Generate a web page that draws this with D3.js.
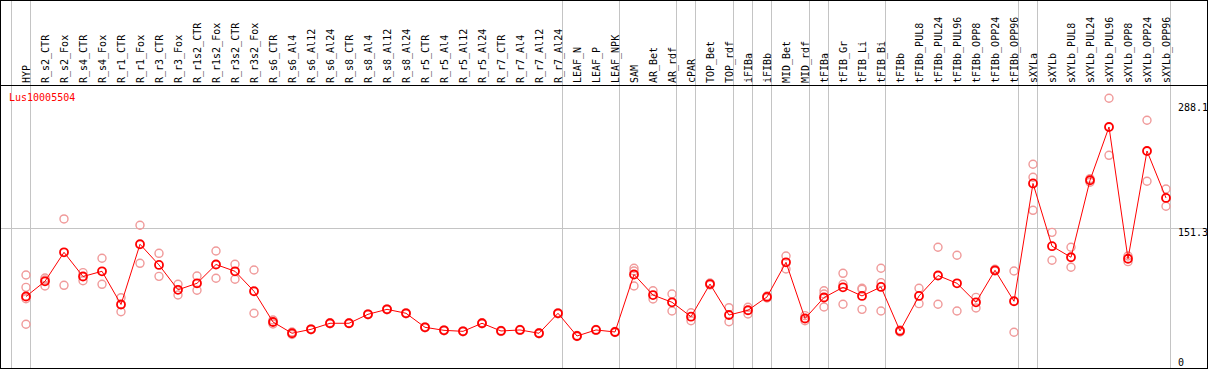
<!DOCTYPE html>
<html>
<head>
<meta charset="utf-8">
<script src="https://cdn.jsdelivr.net/npm/d3@7"></script>
<style>
  body { margin: 0; background: #fff; }
  text { font-family: "DejaVu Sans Mono", monospace; font-size: 10px; }
</style>
</head>
<body>
<div id="chart"></div>
<script>
var geneName = "Lus10005504";

var samples = ["HYP", "R_s2_CTR", "R_s2_Fox", "R_s4_CTR", "R_s4_Fox", "R_r1_CTR", "R_r1_Fox",
    "R_r3_CTR", "R_r3_Fox", "R_r1s2_CTR", "R_r1s2_Fox", "R_r3s2_CTR", "R_r3s2_Fox",
    "R_s6_CTR", "R_s6_Al4", "R_s6_Al12", "R_s6_Al24", "R_s8_CTR", "R_s8_Al4", "R_s8_Al12", "R_s8_Al24",
    "R_r5_CTR", "R_r5_Al4", "R_r5_Al12", "R_r5_Al24", "R_r7_CTR", "R_r7_Al4", "R_r7_Al12", "R_r7_Al24",
    "LEAF_N", "LEAF_P", "LEAF_NPK", "SAM", "AR_Bet", "AR_rdf", "cPAR", "TOP_Bet", "TOP_rdf",
    "iFIBa", "iFIBb", "MID_Bet", "MID_rdf", "tFIBa", "tFIB_Gr", "tFIB_Li", "tFIB_Bi", "tFIBb",
    "tFIBb_PUL8", "tFIBb_PUL24", "tFIBb_PUL96", "tFIBb_OPP8", "tFIBb_OPP24", "tFIBb_OPP96",
    "sXYLa", "sXYLb", "sXYLb_PUL8", "sXYLb_PUL24", "sXYLb_PUL96", "sXYLb_OPP8", "sXYLb_OPP24", "sXYLb_OPP96"];

var means = [76.9, 93.5, 125.1, 98.7, 104.4, 68.2, 133.9, 111.3, 84.2, 91.3, 111.8, 104.4, 82.6,
    49.1, 36.8, 41.1, 47.7, 47.7, 57.5, 62.9, 58.6, 43.3, 40.0, 38.9, 47.7, 39.3, 40.4, 36.8, 58.6,
    33.8, 40.4, 38.2, 100.9, 78.5, 70.6, 54.9, 90.5, 56.7, 61.9, 76.4, 114.2, 52.9, 75.8, 86.9,
    77.5, 87.3, 39.3, 77.5, 99.8, 91.3, 70.6, 105.5, 71.7, 200.2, 131.8, 119.7, 203.7, 261.8,
    118.1, 235.6, 184.4];

var replicates = [
    [100.4, 86.9, 74.5, 46.6], [97.1, 94.9, 88.4], [161.5, 89.1], [102.9, 94.1], [118.6, 90.2],
    [75.6, 60.3], [154.6, 113.1], [124.0, 98.9], [90.2, 78.5], [99.3, 83.7], [126.5, 96.8],
    [112.0, 95.7], [105.8, 58.6], [51.3, 46.9], [38.2, 35.5], [41.6, 40.6], [48.2, 47.2],
    [48.0, 47.4], [58.0, 57.0], [63.4, 62.4], [59.1, 58.1], [43.8, 42.8], [40.5, 39.5],
    [39.4, 38.4], [48.2, 47.2], [39.8, 38.8], [40.9, 39.9], [37.3, 36.3], [59.1, 58.1],
    [34.3, 33.3], [40.9, 39.9], [38.7, 37.7], [107.7, 104.7, 88.4], [83.2, 74.2], [79.6, 61.1],
    [59.2, 50.5], [91.6, 89.5], [64.7, 49.4], [65.1, 57.8], [77.5, 75.3], [121.1, 106.9],
    [56.0, 50.5], [83.2, 79.6, 65.5], [102.2, 90.2, 68.4], [85.9, 84.8, 62.9], [107.7, 92.0, 61.1],
    [40.4, 38.2], [85.9, 69.1], [130.6, 68.4], [121.9, 61.1], [76.0, 64.4], [106.6, 104.7],
    [104.7, 37.9], [221.1, 207.0, 170.9], [146.9, 116.4], [130.6, 108.8], [205.4, 201.5],
    [293.1, 230.9], [121.1, 114.9], [269.1, 202.6], [194.2, 175.3]];

// index of the last sample in each group (-1 = left margin line)
var groupEnds = [-1, 0, 28, 31, 34, 35, 37, 38, 39, 41, 42, 45, 52, 53, 60];

var yTicks = [0, 151.3, 288.1];
var gridTicks = [151.3];
var yMax = 307.6;

var width = 1209, height = 370;
var headerH = 85;
var bottom = 367;

var svg = d3.select('#chart').append('svg')
    .attr('width', width)
    .attr('height', height);

var x = d3.scalePoint()
    .domain(samples)
    .range([26, 1166]);
var step = x.step();

var y = d3.scaleLinear()
    .domain([0, yMax])
    .range([bottom, headerH]);

function xi(i) { return x(samples[0]) + i * step; }

// group separator lines
svg.append('g')
    .selectAll('line')
    .data(groupEnds)
    .enter().append('line')
    .attr('x1', function(d) { return Math.floor(xi(d) + 4) + 0.5; })
    .attr('x2', function(d) { return Math.floor(xi(d) + 4) + 0.5; })
    .attr('y1', 0)
    .attr('y2', 369)
    .attr('stroke', '#c4c4c4')
    .attr('stroke-width', 1);

// horizontal grid line
svg.append('g')
    .selectAll('line')
    .data(gridTicks)
    .enter().append('line')
    .attr('x1', 1)
    .attr('x2', 1207)
    .attr('y1', function(d) { return Math.round(y(d)) + 0.5; })
    .attr('y2', function(d) { return Math.round(y(d)) + 0.5; })
    .attr('stroke', '#c4c4c4')
    .attr('stroke-width', 1);

// frame and header separator
svg.append('rect')
    .attr('x', 0.5).attr('y', 0.5)
    .attr('width', 1207).attr('height', 368)
    .attr('fill', 'none')
    .attr('stroke', '#000')
    .attr('stroke-width', 1);
svg.append('line')
    .attr('x1', 0).attr('x2', 1208)
    .attr('y1', headerH + 0.5).attr('y2', headerH + 0.5)
    .attr('stroke', '#000');

// sample labels
svg.append('g')
    .selectAll('text')
    .data(samples)
    .enter().append('text')
    .attr('transform', function(d) { return 'translate(' + (x(d) + 3.5) + ',' + (headerH - 2) + ') rotate(-90)'; })
    .attr('fill', '#000')
    .text(function(d) { return d; });

// y labels
svg.append('g')
    .selectAll('text')
    .data(yTicks)
    .enter().append('text')
    .attr('x', 1178)
    .attr('y', function(d) { return Math.min(y(d), 358) + 8; })
    .attr('fill', '#000')
    .text(function(d) { return d; });

// gene name
svg.append('text')
    .attr('x', 9)
    .attr('y', 101)
    .attr('fill', '#ff0000')
    .text(geneName);

// replicate points
var reps = [];
replicates.forEach(function(r, i) {
    r.forEach(function(v) { reps.push({s: samples[i], v: v}); });
});
svg.append('g')
    .selectAll('circle')
    .data(reps)
    .enter().append('circle')
    .attr('cx', function(d) { return x(d.s); })
    .attr('cy', function(d) { return y(d.v); })
    .attr('r', 4)
    .attr('fill', 'none')
    .attr('stroke', '#f09a9a')
    .attr('stroke-width', 1.4);

// mean line
var line = d3.line()
    .x(function(d, i) { return x(samples[i]); })
    .y(function(d) { return y(d); });
svg.append('path')
    .datum(means)
    .attr('d', line)
    .attr('fill', 'none')
    .attr('stroke', '#ff0000')
    .attr('stroke-width', 1);

// mean points
svg.append('g')
    .selectAll('circle')
    .data(means)
    .enter().append('circle')
    .attr('cx', function(d, i) { return x(samples[i]); })
    .attr('cy', function(d) { return y(d); })
    .attr('r', 4)
    .attr('fill', 'none')
    .attr('stroke', '#ff0000')
    .attr('stroke-width', 1.8);
</script>
</body>
</html>
